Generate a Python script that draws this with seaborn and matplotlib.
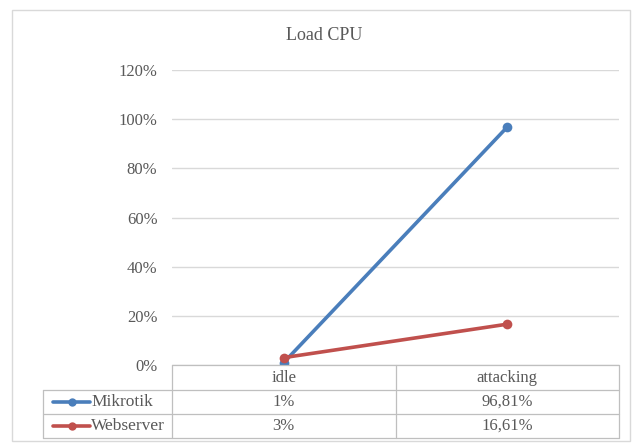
import matplotlib
matplotlib.use("Agg")
import matplotlib.pyplot as plt
from matplotlib.lines import Line2D
from matplotlib.patches import Rectangle
import seaborn as sns
import pandas as pd

# chart data
states = ["idle", "attacking"]
servers = ["Mikrotik", "Webserver"]
mikrotik_load = [0.01, 0.9681]
webserver_load = [0.03, 0.1661]
mikrotik_labels = ["1%", "96,81%"]
webserver_labels = ["3%", "16,61%"]
y_ticks = [0, 0.2, 0.4, 0.6, 0.8, 1.0, 1.2]

colors = {"Mikrotik": "#4A7EBB", "Webserver": "#C0504D"}
text_color = "#595959"
grid_color = "#D9D9D9"

df = pd.DataFrame({
    "state": states * 2,
    "load": mikrotik_load + webserver_load,
    "server": [servers[0]] * 2 + [servers[1]] * 2,
})

sns.set_theme(style="white")
plt.rcParams["font.family"] = ["Liberation Serif", "DejaVu Serif"]

W, H = 640, 445
fig = plt.figure(figsize=(W / 100, H / 100), dpi=100)

# pixel layout of plot area
left, right, top, bottom = 172, 619, 70, 365
ax = fig.add_axes([left / W, 1 - bottom / H, (right - left) / W, (bottom - top) / H])

sns.lineplot(data=df, x="state", y="load", hue="server", palette=colors,
             marker="o", markersize=7, markeredgewidth=0, linewidth=2.6,
             sort=False, legend=False, ax=ax)

ax.set_xlim(-0.5, 1.5)
ax.set_ylim(0, 1.2)
ax.set_yticks(y_ticks)
ax.set_yticklabels([f"{int(round(t * 100))}%" for t in y_ticks], color=text_color, fontsize=12)
ax.tick_params(axis="y", length=0, pad=10.5)
ax.set_xticks([])
ax.set_xlabel("")
ax.set_ylabel("")
for sp in ax.spines.values():
    sp.set_visible(False)
ax.yaxis.grid(True, color=grid_color, linewidth=1)
ax.set_axisbelow(True)


def fx(px):
    return px / W


def fy(py):
    return 1 - py / H


# title, centred on the whole chart frame
fig.text(fx(324), fy(36), "Load CPU", ha="center", va="center",
         fontsize=13, color=text_color)

# outer chart frame
fig.add_artist(Rectangle((fx(12), fy(441)), (630 - 12) / W, (441 - 10) / H,
                         transform=fig.transFigure, fill=False, edgecolor="#D9D9D9", linewidth=1))

# data table below plot
tbl_left = 43
mid = (left + right) / 2
row_y = [365, 390, 414, 438]
line_kw = dict(color="#BFBFBF", linewidth=0.9, transform=fig.transFigure)

fig.add_artist(Line2D([fx(left), fx(right)], [fy(row_y[0])] * 2, **line_kw))
for yy in row_y[1:]:
    fig.add_artist(Line2D([fx(tbl_left), fx(right)], [fy(yy)] * 2, **line_kw))
for xx in [left, mid, right]:
    fig.add_artist(Line2D([fx(xx)] * 2, [fy(row_y[0]), fy(row_y[-1])], **line_kw))
fig.add_artist(Line2D([fx(tbl_left)] * 2, [fy(row_y[1]), fy(row_y[-1])], **line_kw))

col_centers = [(left + mid) / 2, (mid + right) / 2]
for cx, s in zip(col_centers, states):
    fig.text(fx(cx), fy((row_y[0] + row_y[1]) / 2), s, ha="center", va="center",
             fontsize=12, color=text_color)

rows = [(servers[0], mikrotik_labels), (servers[1], webserver_labels)]
for i, (name, labels) in enumerate(rows):
    yc = (row_y[i + 1] + row_y[i + 2]) / 2
    # legend key: line with a marker in the middle
    fig.add_artist(Line2D([fx(53), fx(72), fx(90)], [fy(yc)] * 3, color=colors[name],
                          linewidth=2.6, marker="o", markersize=6, markevery=[1],
                          markeredgewidth=0, transform=fig.transFigure))
    fig.text(fx(91), fy(yc), name, ha="left", va="center", fontsize=12.5, color=text_color)
    for cx, lab in zip(col_centers, labels):
        fig.text(fx(cx), fy(yc), lab, ha="center", va="center", fontsize=12, color=text_color)

fig.savefig("out.png", dpi=100, facecolor="white")
